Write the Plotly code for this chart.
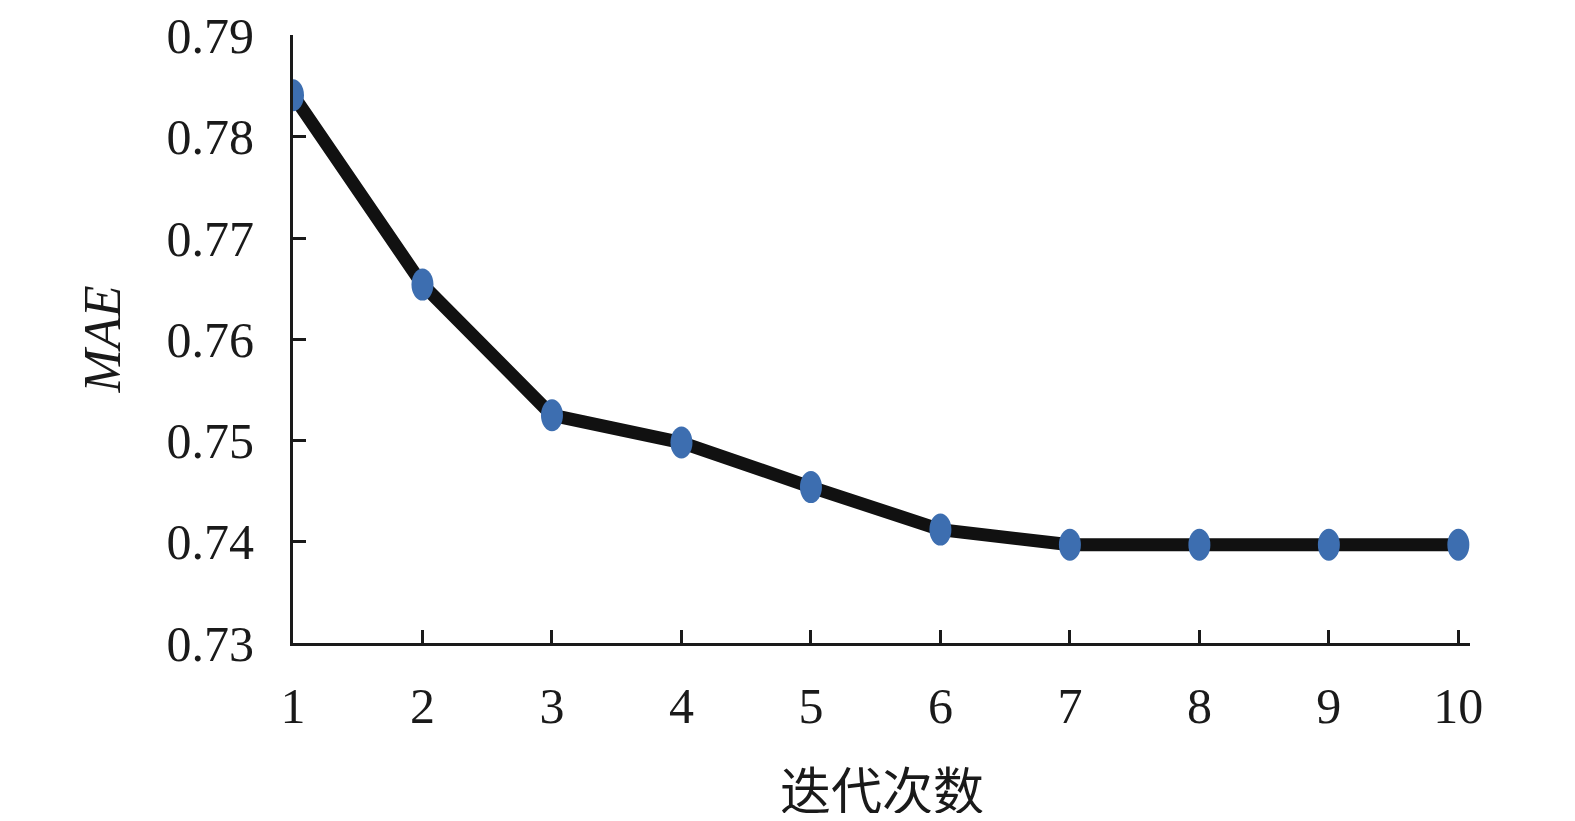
import plotly.graph_objects as go

iterations = [1, 2, 3, 4, 5, 6, 7, 8, 9, 10]
mae = [0.7841, 0.7654, 0.7525, 0.7498, 0.7454, 0.7412, 0.7397, 0.7397, 0.7397, 0.7397]
y_ticks = [0.73, 0.74, 0.75, 0.76, 0.77, 0.78, 0.79]
x_title = "迭代次数"
y_title = "<i>MAE</i>"

serif = "Liberation Serif, Times New Roman, serif"
axis_color = "#1a1a1a"
marker_color = "#3d6eb0"

fig = go.Figure()
fig.add_trace(go.Scatter(
    x=iterations, y=mae, mode="lines",
    line=dict(color="#111111", width=13),
    showlegend=False, hoverinfo="skip",
))

# elliptical markers anchored at each data point
for xv, yv in zip(iterations, mae):
    fig.add_shape(
        type="circle", xref="x", yref="y",
        xsizemode="pixel", ysizemode="pixel",
        xanchor=xv, yanchor=yv,
        x0=-11, x1=11, y0=-16, y1=16,
        fillcolor=marker_color, line=dict(width=0), layer="above",
    )

# x-axis title placed as an annotation below the tick labels
fig.add_annotation(
    text=x_title, xref="paper", yref="paper", x=0.5, y=0,
    xanchor="center", yanchor="middle", yshift=-145, showarrow=False,
    font=dict(family="Noto Sans CJK SC", size=51, color="#1a1a1a"),
)

# page body has an 8px margin; size the figure so it fits the 1575x821 window
fig.update_layout(
    width=1559, height=805, autosize=False,
    margin=dict(l=285, r=97, t=27, b=170),
    paper_bgcolor="white", plot_bgcolor="white",
    font=dict(family=serif, size=50, color="#1a1a1a"),
)
fig.update_xaxes(
    range=[1, 10.09], tickvals=iterations, ticktext=[str(i) for i in iterations],
    ticks="inside", ticklen=13, tickwidth=3, tickcolor=axis_color,
    showline=True, linewidth=3, linecolor=axis_color,
    showgrid=False, zeroline=False, ticklabelstandoff=17, automargin=False,
    ticklabeloverflow="allow",
    tickfont=dict(family=serif, size=50),
)
fig.update_yaxes(
    range=[0.73, 0.79005], tickvals=y_ticks, ticktext=[f"{v:.2f}" for v in y_ticks],
    ticks="inside", ticklen=13, tickwidth=3, tickcolor=axis_color,
    showline=True, linewidth=3, linecolor=axis_color,
    showgrid=False, zeroline=False, ticklabelstandoff=26, automargin=False,
    ticklabeloverflow="allow",
    tickfont=dict(family=serif, size=50),
    title=dict(text=y_title, standoff=30, font=dict(family=serif, size=52)),
)

fig.write_html("out.html")
